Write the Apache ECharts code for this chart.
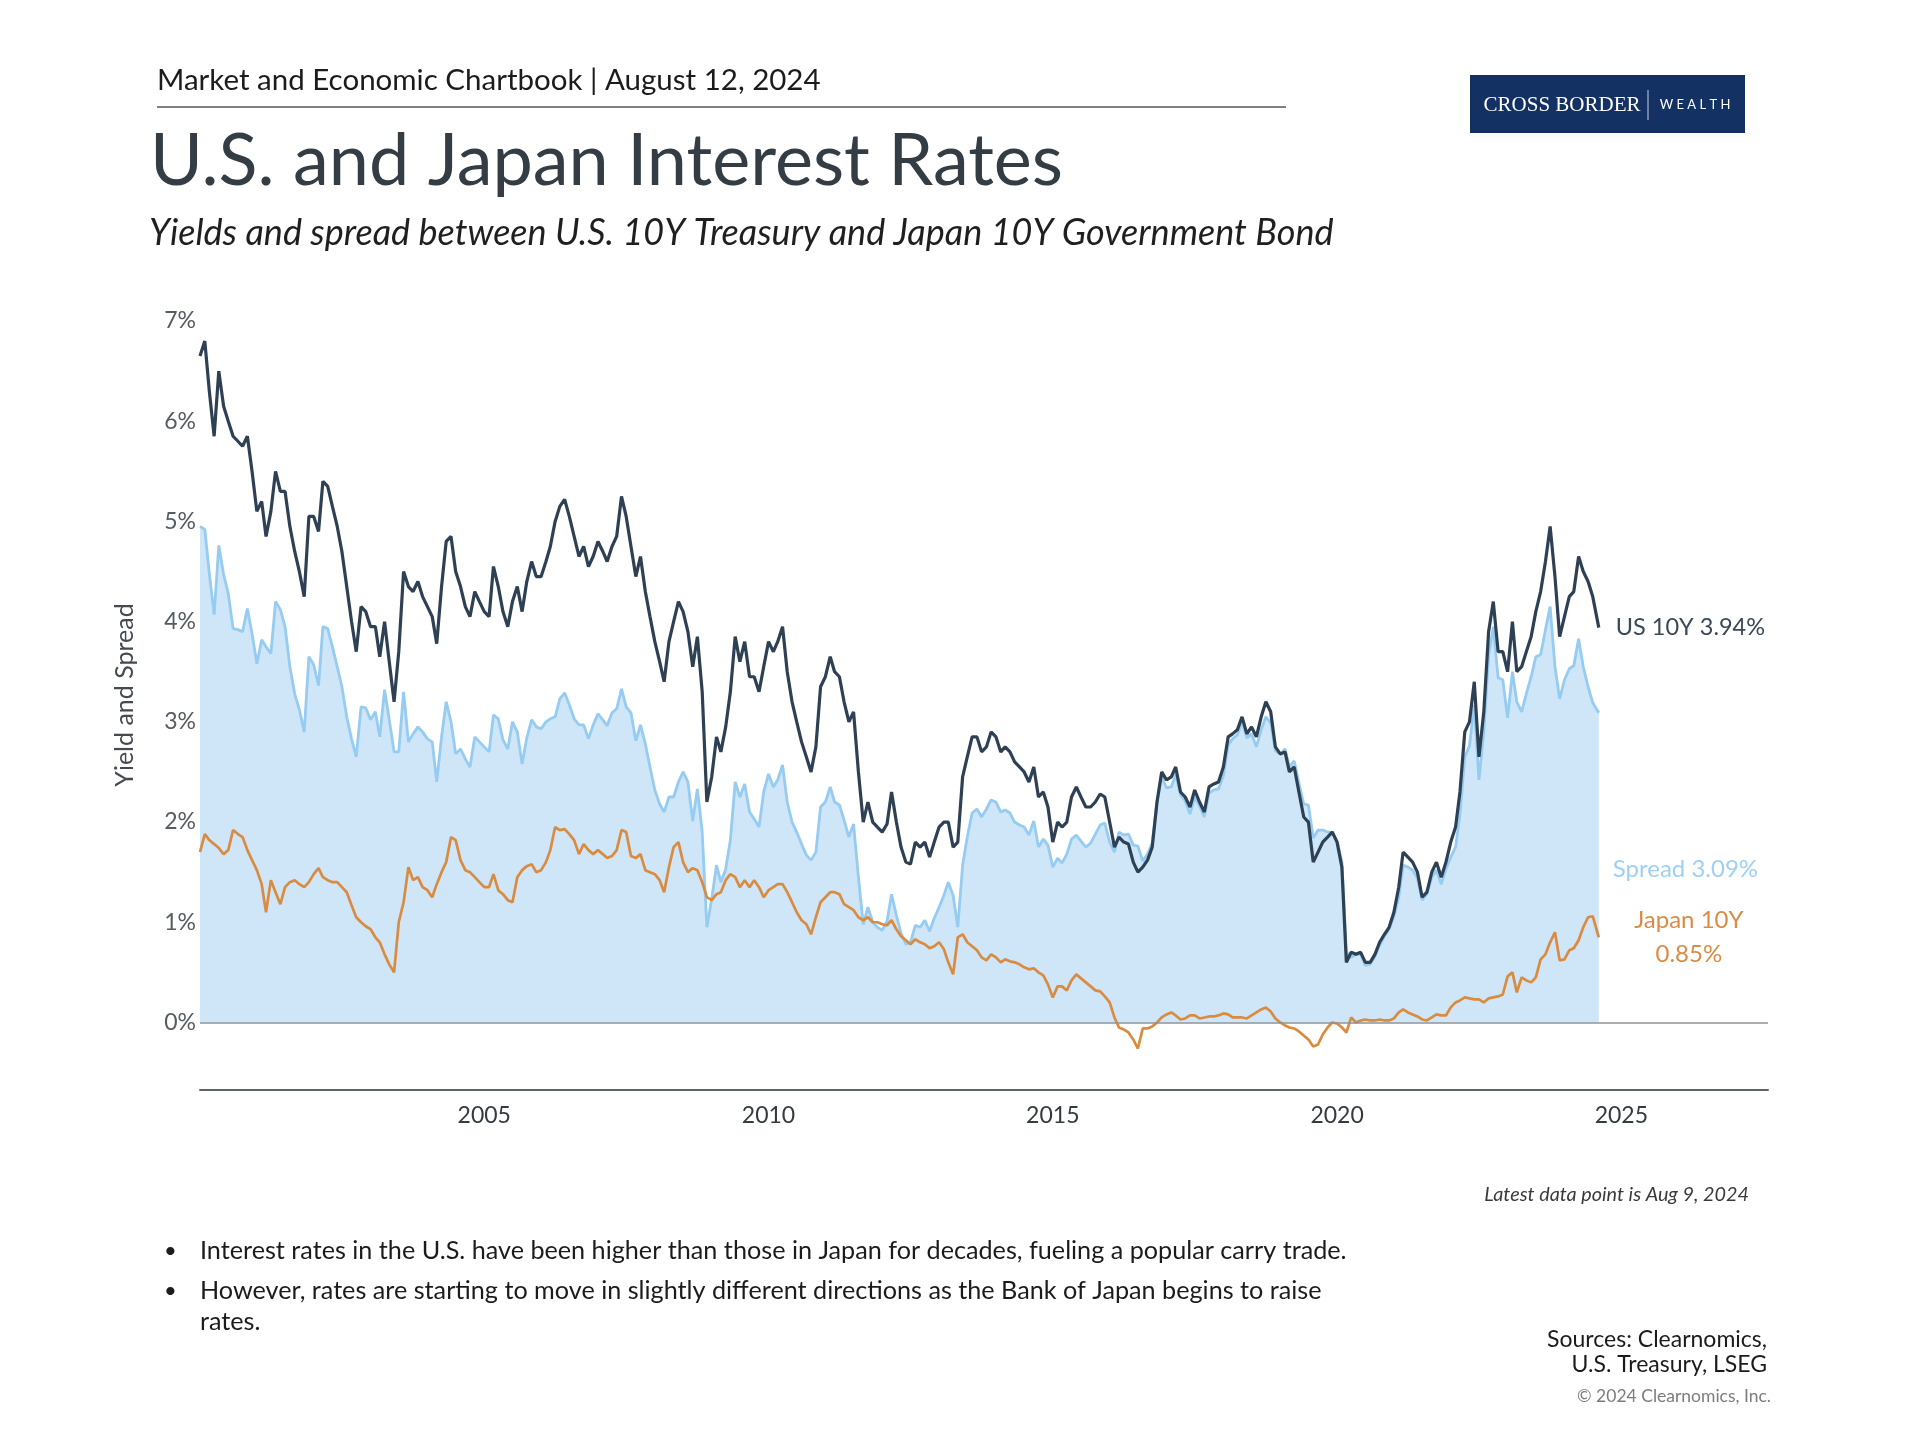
<!DOCTYPE html>
<html>
<head>
<meta charset="utf-8">
<script src="https://cdn.jsdelivr.net/npm/echarts@6/dist/echarts.min.js"></script>
<style>
  html, body { margin: 0; padding: 0; background: #ffffff; }
  #chart { width: 1920px; height: 1440px; }
</style>
</head>
<body>
<div id="chart"></div>
<script>
// ---------------- DATA ----------------
// Monthly readings, Jan 2000 .. Jul 2024, last point = Aug 9, 2024
const startYear = 2000;
const lastDate = '2024-08-09';

// U.S. 10Y Treasury yield (%)
const us10y = [
  6.65, 6.80, 6.30, 5.85, 6.50, 6.15, 6.00, 5.85, 5.80, 5.75, 5.85, 5.50, // 2000
  5.10, 5.20, 4.85, 5.10, 5.50, 5.30, 5.30, 4.95, 4.70, 4.50, 4.25, 5.05, // 2001
  5.05, 4.90, 5.40, 5.35, 5.15, 4.95, 4.70, 4.35, 4.00, 3.70, 4.15, 4.10, // 2002
  3.95, 3.95, 3.65, 4.00, 3.60, 3.20, 3.70, 4.50, 4.35, 4.30, 4.40, 4.25, // 2003
  4.15, 4.05, 3.78, 4.35, 4.80, 4.85, 4.50, 4.35, 4.15, 4.05, 4.30, 4.20, // 2004
  4.10, 4.05, 4.55, 4.35, 4.10, 3.95, 4.20, 4.35, 4.10, 4.40, 4.60, 4.45, // 2005
  4.45, 4.60, 4.75, 5.00, 5.15, 5.22, 5.05, 4.85, 4.65, 4.75, 4.55, 4.65, // 2006
  4.80, 4.70, 4.60, 4.75, 4.85, 5.25, 5.05, 4.75, 4.45, 4.65, 4.30, 4.05, // 2007
  3.80, 3.60, 3.40, 3.80, 4.00, 4.20, 4.10, 3.90, 3.55, 3.85, 3.30, 2.20, // 2008
  2.45, 2.85, 2.70, 2.95, 3.30, 3.85, 3.60, 3.80, 3.45, 3.45, 3.30, 3.55, // 2009
  3.80, 3.70, 3.80, 3.95, 3.50, 3.20, 3.00, 2.80, 2.65, 2.50, 2.75, 3.35, // 2010
  3.45, 3.65, 3.50, 3.45, 3.20, 3.00, 3.10, 2.50, 2.00, 2.20, 2.00, 1.95, // 2011
  1.90, 1.98, 2.30, 2.00, 1.75, 1.60, 1.58, 1.80, 1.75, 1.80, 1.65, 1.80, // 2012
  1.95, 2.00, 2.00, 1.75, 1.80, 2.45, 2.65, 2.85, 2.85, 2.70, 2.75, 2.90, // 2013
  2.85, 2.70, 2.75, 2.70, 2.60, 2.55, 2.50, 2.40, 2.55, 2.25, 2.30, 2.15, // 2014
  1.80, 2.00, 1.95, 2.00, 2.25, 2.35, 2.25, 2.15, 2.15, 2.20, 2.28, 2.25, // 2015
  2.00, 1.75, 1.85, 1.80, 1.78, 1.60, 1.50, 1.55, 1.62, 1.75, 2.20, 2.50, // 2016
  2.42, 2.45, 2.55, 2.30, 2.25, 2.15, 2.32, 2.20, 2.10, 2.35, 2.38, 2.40, // 2017
  2.55, 2.85, 2.88, 2.92, 3.05, 2.88, 2.95, 2.85, 3.05, 3.20, 3.10, 2.75, // 2018
  2.68, 2.70, 2.50, 2.55, 2.30, 2.05, 2.00, 1.60, 1.70, 1.80, 1.85, 1.90, // 2019
  1.80, 1.55, 0.60, 0.70, 0.68, 0.70, 0.60, 0.60, 0.68, 0.80, 0.88, 0.95, // 2020
  1.10, 1.35, 1.70, 1.65, 1.60, 1.50, 1.25, 1.30, 1.50, 1.60, 1.45, 1.60, // 2021
  1.80, 1.95, 2.30, 2.90, 3.00, 3.40, 2.65, 3.10, 3.90, 4.20, 3.70, 3.70, // 2022
  3.50, 4.00, 3.50, 3.55, 3.70, 3.85, 4.10, 4.30, 4.60, 4.95, 4.45, 3.85, // 2023
  4.05, 4.25, 4.30, 4.65, 4.50, 4.40, 4.25, 3.94                          // 2024
];

// Japan 10Y Government Bond yield (%)
const jp10y = [
  1.70, 1.88, 1.82, 1.78, 1.74, 1.68, 1.72, 1.92, 1.88, 1.85, 1.72, 1.62, // 2000
  1.52, 1.38, 1.10, 1.42, 1.30, 1.18, 1.35, 1.40, 1.42, 1.38, 1.35, 1.40, // 2001
  1.48, 1.54, 1.45, 1.42, 1.40, 1.40, 1.35, 1.30, 1.17, 1.05, 1.00, 0.96, // 2002
  0.93, 0.85, 0.80, 0.68, 0.58, 0.50, 1.00, 1.20, 1.55, 1.42, 1.45, 1.35, // 2003
  1.32, 1.25, 1.38, 1.50, 1.60, 1.85, 1.82, 1.62, 1.52, 1.50, 1.45, 1.40, // 2004
  1.35, 1.35, 1.48, 1.32, 1.28, 1.22, 1.20, 1.45, 1.52, 1.56, 1.58, 1.50, // 2005
  1.52, 1.60, 1.72, 1.95, 1.92, 1.93, 1.88, 1.82, 1.68, 1.78, 1.72, 1.68, // 2006
  1.72, 1.68, 1.64, 1.66, 1.72, 1.92, 1.90, 1.66, 1.64, 1.68, 1.52, 1.50, // 2007
  1.48, 1.42, 1.30, 1.55, 1.75, 1.80, 1.60, 1.50, 1.54, 1.52, 1.40, 1.25, // 2008
  1.22, 1.28, 1.30, 1.42, 1.48, 1.45, 1.35, 1.42, 1.35, 1.42, 1.35, 1.25, // 2009
  1.32, 1.35, 1.38, 1.38, 1.30, 1.20, 1.10, 1.02, 0.98, 0.88, 1.05, 1.20, // 2010
  1.25, 1.30, 1.30, 1.28, 1.18, 1.15, 1.12, 1.05, 1.02, 1.05, 1.00, 1.00, // 2011
  0.98, 0.97, 1.02, 0.93, 0.86, 0.82, 0.78, 0.83, 0.80, 0.78, 0.74, 0.76, // 2012
  0.80, 0.73, 0.60, 0.48, 0.85, 0.88, 0.80, 0.76, 0.72, 0.65, 0.62, 0.68, // 2013
  0.65, 0.60, 0.63, 0.61, 0.60, 0.58, 0.55, 0.53, 0.54, 0.50, 0.47, 0.38, // 2014
  0.25, 0.36, 0.36, 0.32, 0.42, 0.48, 0.44, 0.40, 0.36, 0.32, 0.31, 0.26, // 2015
  0.20, 0.05, -0.05, -0.07, -0.10, -0.17, -0.26, -0.06, -0.06, -0.04, 0.00, 0.05, // 2016
  0.08, 0.10, 0.07, 0.03, 0.04, 0.07, 0.07, 0.04, 0.05, 0.06, 0.06, 0.07, // 2017
  0.09, 0.08, 0.05, 0.05, 0.05, 0.04, 0.07, 0.10, 0.13, 0.15, 0.11, 0.04, // 2018
  0.00, -0.03, -0.05, -0.06, -0.09, -0.13, -0.17, -0.24, -0.22, -0.12, -0.05, 0.00, // 2019
  -0.01, -0.05, -0.10, 0.05, 0.00, 0.02, 0.03, 0.02, 0.02, 0.03, 0.02, 0.02, // 2020
  0.04, 0.10, 0.13, 0.10, 0.08, 0.06, 0.03, 0.02, 0.05, 0.08, 0.07, 0.07, // 2021
  0.15, 0.20, 0.22, 0.25, 0.24, 0.23, 0.23, 0.20, 0.24, 0.25, 0.26, 0.28, // 2022
  0.46, 0.50, 0.30, 0.45, 0.42, 0.40, 0.45, 0.63, 0.68, 0.80, 0.90, 0.62, // 2023
  0.63, 0.72, 0.74, 0.82, 0.95, 1.05, 1.06, 0.85                          // 2024
];

const yTickValues = [0, 1, 2, 3, 4, 5, 6, 7];
const xTickYears = [2005, 2010, 2015, 2020, 2025];

const titleText = 'U.S. and Japan Interest Rates';
const headerText = 'Market and Economic Chartbook | August 12, 2024';
const subtitleText = 'Yields and spread between U.S. 10Y Treasury and Japan 10Y Government Bond';
const yAxisName = 'Yield and Spread';
const bullets = [
  ['Interest rates in the U.S. have been higher than those in Japan for decades, fueling a popular carry trade.'],
  ['However, rates are starting to move in slightly different directions as the Bank of Japan begins to raise', 'rates.']
];
const latestNote = 'Latest data point is Aug 9, 2024';
const sourceLines = ['Sources: Clearnomics,', 'U.S. Treasury, LSEG'];
const copyright = '\u00A9 2024 Clearnomics, Inc.';

// ---------------- helpers ----------------
function decYear(d) {
  const [y, m, dd] = d.split('-').map(Number);
  const s = Date.UTC(y, 0, 1), e = Date.UTC(y + 1, 0, 1);
  return y + (Date.UTC(y, m - 1, dd) - s) / (e - s);
}
const dates = us10y.map((_, i) => i === us10y.length - 1
  ? lastDate
  : `${startYear + Math.floor(i / 12)}-${String(i % 12 + 1).padStart(2, '0')}-01`);
const xs = dates.map(decYear);
// Spread is by definition U.S. 10Y minus Japan 10Y
const spread = us10y.map((v, i) => Math.round((v - jp10y[i]) * 100) / 100);

const usData = xs.map((x, i) => [x, us10y[i]]);
const jpData = xs.map((x, i) => [x, jp10y[i]]);
const spData = xs.map((x, i) => [x, spread[i]]);

const FONT = 'Lato, "Noto Sans", sans-serif';

// ---------------- chart ----------------
const chart = echarts.init(document.getElementById('chart'), null, { renderer: 'canvas' });

const graphic = [
  { type: 'text', x: 157, y: 80, style: { text: headerText, font: `29.5px ${FONT}`, fill: '#1b1b1b', align: 'left', verticalAlign: 'middle' } },
  { type: 'line', shape: { x1: 157, y1: 107, x2: 1286, y2: 107 }, style: { stroke: '#50575d', lineWidth: 1.5 } },
  { type: 'text', x: 150, y: 162, style: { text: titleText, font: `72px ${FONT}`, fill: '#343c44', align: 'left', verticalAlign: 'middle' } },
  { type: 'text', x: 149, y: 233, style: { text: subtitleText, font: `italic 36px ${FONT}`, fill: '#1f1f1f', align: 'left', verticalAlign: 'middle' } },
  // y axis title
  { type: 'text', x: 125, y: 695, rotation: Math.PI / 2, style: { text: yAxisName, font: `25px ${FONT}`, fill: '#444a50', align: 'center', verticalAlign: 'middle' } },
  // logo
  { type: 'rect', shape: { x: 1470, y: 75, width: 275, height: 58 }, style: { fill: '#143163' } },
  { type: 'text', x: 1562, y: 105, style: { text: 'CROSS BORDER', font: `21px "Liberation Serif", "DejaVu Serif", serif`, fill: '#ffffff', align: 'center', verticalAlign: 'middle' } },
  { type: 'line', shape: { x1: 1648, y1: 90, x2: 1648, y2: 120 }, style: { stroke: '#c9d2e3', lineWidth: 1 } },
  { type: 'text', x: 1695, y: 105, style: { text: 'W E A L T H', font: `13px ${FONT}`, fill: '#ffffff', align: 'center', verticalAlign: 'middle' } },
  // footer
  { type: 'text', x: 1749, y: 1195, style: { text: latestNote, font: `italic 19.8px ${FONT}`, fill: '#3a3a3a', align: 'right', verticalAlign: 'middle' } },
  { type: 'text', x: 1767, y: 1340, style: { text: sourceLines[0], font: `23px ${FONT}`, fill: '#1b1b1b', align: 'right', verticalAlign: 'middle' } },
  { type: 'text', x: 1767, y: 1365, style: { text: sourceLines[1], font: `23px ${FONT}`, fill: '#1b1b1b', align: 'right', verticalAlign: 'middle' } },
  { type: 'text', x: 1771, y: 1396, style: { text: copyright, font: `17.5px ${FONT}`, fill: '#7d7d7d', align: 'right', verticalAlign: 'middle' } }
];
const bulletLineY = [[1251], [1291, 1322]];
bullets.forEach((lines, bi) => {
  graphic.push({ type: 'text', x: 164, y: bulletLineY[bi][0], style: { text: '\u2022', font: `22px ${FONT}`, fill: '#1b1b1b', align: 'left', verticalAlign: 'middle' } });
  lines.forEach((ln, li) => {
    graphic.push({ type: 'text', x: 200, y: bulletLineY[bi][li], style: { text: ln, font: `25.2px ${FONT}`, fill: '#1b1b1b', align: 'left', verticalAlign: 'middle' } });
  });
});

const option = {
  animation: false,
  backgroundColor: '#ffffff',
  grid: { left: 200, right: 152, top: 321, bottom: 350, containLabel: false },
  xAxis: {
    type: 'value',
    min: 2000,
    max: 2027.58,
    interval: 5,
    axisLine: { show: true, onZero: false, lineStyle: { color: '#5d6466', width: 2 } },
    axisTick: { show: false },
    splitLine: { show: false },
    axisLabel: {
      margin: 14,
      fontFamily: FONT,
      fontSize: 23,
      color: '#333a40',
      formatter: v => xTickYears.includes(v) ? String(v) : ''
    }
  },
  yAxis: {
    type: 'value',
    min: -0.674,
    max: 7,
    axisLine: { show: false },
    axisTick: { show: false },
    splitLine: { show: false },
    axisLabel: {
      customValues: yTickValues,
      margin: 4,
      fontFamily: FONT,
      fontSize: 23,
      color: '#555b60',
      formatter: v => `${v}%`
    }
  },
  series: [
    {
      name: 'Spread',
      type: 'line',
      data: spData,
      showSymbol: false,
      symbol: 'none',
      z: 2,
      lineStyle: { color: '#96cbf2', width: 2.8 },
      areaStyle: { color: '#cfe6f8', opacity: 1 },
      emphasis: { disabled: true },
      endLabel: {
        show: true,
        formatter: p => `Spread ${p.value[1].toFixed(2)}%`,
        color: '#9fd0f4',
        fontFamily: FONT,
        fontSize: 24,
        distance: 14,
        offset: [0, 156]
      },
      markLine: {
        silent: true,
        symbol: ['none', 'none'],
        label: { show: false },
        lineStyle: { color: '#8b9399', width: 1.5, type: 'solid' },
        data: [{ yAxis: 0 }]
      }
    },
    {
      name: 'US 10Y',
      type: 'line',
      data: usData,
      showSymbol: false,
      symbol: 'none',
      z: 3,
      lineStyle: { color: '#2e4053', width: 3.2 },
      emphasis: { disabled: true },
      endLabel: {
        show: true,
        formatter: p => `US 10Y ${p.value[1].toFixed(2)}%`,
        color: '#3b4856',
        fontFamily: FONT,
        fontSize: 23.5,
        distance: 17
      }
    },
    {
      name: 'Japan 10Y',
      type: 'line',
      data: jpData,
      showSymbol: false,
      symbol: 'none',
      z: 4,
      lineStyle: { color: '#d98b40', width: 2.7 },
      emphasis: { disabled: true },
      endLabel: {
        show: true,
        formatter: p => `Japan 10Y\n${p.value[1].toFixed(2)}%`,
        color: '#da8c45',
        fontFamily: FONT,
        fontSize: 24,
        lineHeight: 34,
        align: 'center',
        distance: 90
      }
    }
  ],
  graphic: graphic
};

chart.setOption(option);
</script>
</body>
</html>
